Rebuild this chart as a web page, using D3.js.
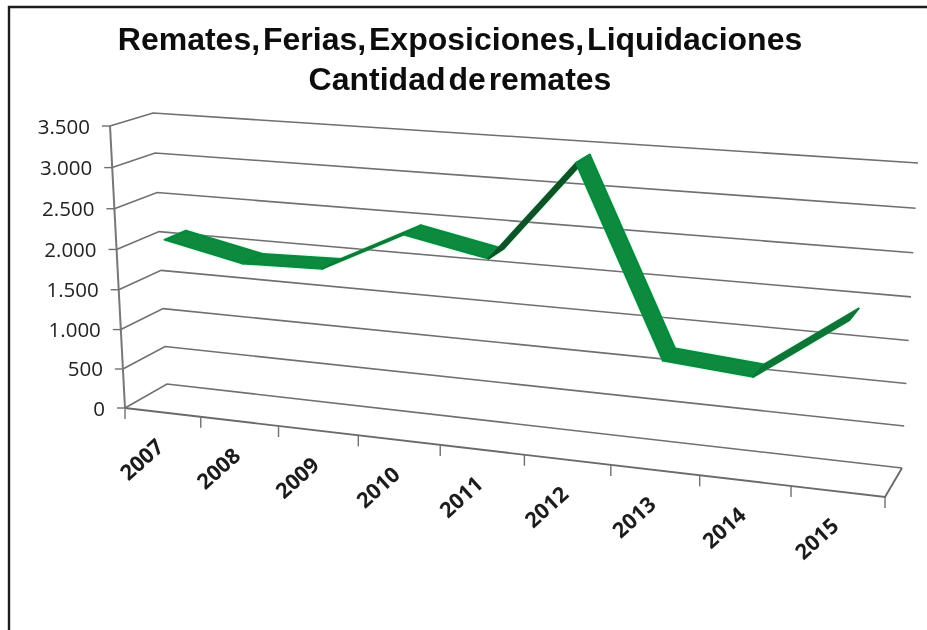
<!DOCTYPE html>
<html><head><meta charset="utf-8">
<script src="https://cdn.jsdelivr.net/npm/d3@7"></script>
<style>html,body{margin:0;padding:0;background:#fff}svg{display:block}</style>
</head><body><svg id="c" width="927" height="630"></svg>
<script>
const categories = ["2007","2008","2009","2010","2011","2012","2013","2014","2015"];
const values = [2110,1900,1925,2420,2220,3400,1220,1135,1885];
const yTicks = [0,500,1000,1500,2000,2500,3000,3500];
const titleLines = ["Remates, Ferias, Exposiciones, Liquidaciones","Cantidad de remates"];

// perspective box corners in pixels
const backQuad = [[167,384],[902,468],[918,163],[153,113]];  // BL BR TR TL
const frontQuad = [[125,408],[885,497],[901,181],[110,126]];

function homography(q){
  const [[x0,y0],[x1,y1],[x2,y2],[x3,y3]] = q;
  const dx1=x1-x2, dx2=x3-x2, sx=x0-x1+x2-x3, dy1=y1-y2, dy2=y3-y2, sy=y0-y1+y2-y3;
  const den=dx1*dy2-dx2*dy1;
  const g=(sx*dy2-dx2*sy)/den, h=(dx1*sy-sx*dy1)/den;
  const a=x1-x0+g*x1, b=x3-x0+h*x3, d=y1-y0+g*y1, e=y3-y0+h*y3;
  return (u,v)=>{const w=g*u+h*v+1; return [(a*u+b*v+x0)/w,(d*u+e*v+y0)/w];};
}
const hB=homography(backQuad), hF=homography(frontQuad);
const project=(u,v,z)=>{const f=hF(u,v),b=hB(u,v);return [f[0]+(b[0]-f[0])*z,f[1]+(b[1]-f[1])*z];};

const xBand=d3.scaleBand().domain(categories).range([0,1]);
const xCenter=c=>xBand(c)+xBand.bandwidth()/2;
const yScale=d3.scaleLinear().domain([0,3500]).range([0,1]);
const line=d3.line();
const svg=d3.select("#c");

const defs=svg.append("defs");
const blur=(id,s)=>defs.append("filter").attr("id",id).attr("filterUnits","userSpaceOnUse")
  .attr("x",0).attr("y",0).attr("width",927).attr("height",630)
  .append("feGaussianBlur").attr("stdDeviation",s);
blur("soft",0.5); blur("softT",0.35); blur("halo",1);

// frame
svg.append("path").attr("d","M9,630V7H927").attr("fill","none").attr("stroke","#1c1c1c").attr("stroke-width",2.4);

const g=svg.append("g").attr("filter","url(#soft)");
const gridColor="#6f6f6f";
g.selectAll("path.grid").data(yTicks).join("path").attr("class","grid")
  .attr("d",t=>line([project(0,yScale(t),0),project(0,yScale(t),1),project(1,yScale(t),1)]))
  .attr("fill","none").attr("stroke",gridColor).attr("stroke-width",1.6);
g.append("path").attr("d",line([project(0,0,0),project(0,1,0)])).attr("stroke","#777").attr("stroke-width",2).attr("fill","none");
g.selectAll("path.ytick").data(yTicks).join("path").attr("class","ytick")
  .attr("d",t=>{const p=project(0,yScale(t),0);return line([[p[0]-8,p[1]],p]);})
  .attr("stroke",gridColor).attr("stroke-width",1.4);
g.append("path").attr("d",line([project(0,0,0),project(1,0,0),project(1,0,1)])).attr("stroke","#6a6a6a").attr("stroke-width",1.9).attr("fill","none");
const edges=categories.map(c=>xBand(c)).concat([1]);
g.selectAll("path.xtick").data(edges).join("path").attr("class","xtick")
  .attr("d",u=>{const p=project(u,0,0);return line([p,[p[0],p[1]+11]]);})
  .attr("stroke",gridColor).attr("stroke-width",1.4);

// ribbon
const zF=0.24, zB=0.76;
const shade=d3.scaleLinear().domain([0,0.6,1.2]).range(["#078a3c","#0a7535","#0a4a24"]).clamp(true);
const segs=d3.pairs(categories.map((c,i)=>({c,v:values[i]})));
const segPath=([a,b])=>line([project(xCenter(a.c),yScale(a.v),zF),project(xCenter(a.c),yScale(a.v),zB),
     project(xCenter(b.c),yScale(b.v),zB),project(xCenter(b.c),yScale(b.v),zF)])+"Z";
const segFill=([a,b])=>{const p=project(xCenter(a.c),yScale(a.v),.5),q=project(xCenter(b.c),yScale(b.v),.5);return shade((p[1]-q[1])/(q[0]-p[0]));};
svg.append("g").attr("filter","url(#halo)").attr("opacity",0.45).selectAll("path").data(segs).join("path")
  .attr("d",segPath).attr("fill","#8ff0b8").attr("stroke","#8ff0b8").attr("stroke-width",2.5);
svg.append("g").attr("filter","url(#softT)").selectAll("path.seg").data(segs).join("path").attr("class","seg")
  .attr("d",segPath).attr("fill",segFill).attr("stroke",segFill).attr("stroke-width",1.6).attr("stroke-linejoin","round");

// text
const tg=svg.append("g").attr("filter","url(#softT)");
const fmt=t=>d3.format(",")(t).replace(/,/g,".");
tg.selectAll("text.yl").data(yTicks).join("text").attr("class","yl")
  .attr("x",t=>project(0,yScale(t),0)[0]-20).attr("y",t=>project(0,yScale(t),0)[1]+7.5)
  .attr("text-anchor","end").attr("font-family","'Open Sans'").attr("font-size",20.5).attr("fill","#222")
  .text(fmt);
tg.selectAll("text.xl").data(categories).join("text").attr("class","xl")
  .attr("transform",c=>{const p=project(xCenter(c),0,0);return `translate(${p[0]-21},${p[1]+47}) rotate(-42)`;})
  .attr("text-anchor","middle").attr("dy","0.36em").attr("font-family","'Open Sans'").attr("font-size",21.5).attr("font-weight",700).attr("fill","#1a1a1a")
  .text(c=>c);
tg.selectAll("text.t").data(titleLines).join("text").attr("class","t")
  .attr("x",460).attr("y",(d,i)=>50+i*40).attr("text-anchor","middle")
  .attr("font-family","'Liberation Sans'").attr("font-weight",700).attr("font-size",32).attr("word-spacing",-6).attr("fill","#111")
  .text(d=>d);
</script></body></html>
